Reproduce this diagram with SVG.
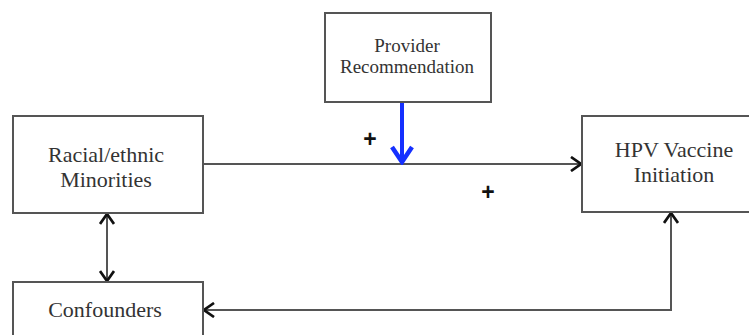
<svg xmlns="http://www.w3.org/2000/svg" width="749" height="335" viewBox="0 0 749 335">
<defs>
<style>
.box{fill:#fff;stroke:#555;stroke-width:2}
.lbl{font-family:"Liberation Serif","Times New Roman",serif;fill:#333;text-anchor:middle}
.plus{font-family:"Liberation Sans",Arial,sans-serif;font-weight:bold;font-size:23px;fill:#111;text-anchor:middle}
.conn{fill:none;stroke:#555;stroke-width:2}
</style>
<marker id="ah" viewBox="0 0 12 16" refX="11" refY="8" markerWidth="12" markerHeight="16" markerUnits="userSpaceOnUse" orient="auto-start-reverse">
<path d="M1,1 L11,8 L1,15" fill="none" stroke="#111" stroke-width="2.7"/>
</marker>
<marker id="ahb" viewBox="0 0 20 24" refX="17" refY="12" markerWidth="20" markerHeight="24" markerUnits="userSpaceOnUse" orient="auto">
<path d="M2,2 L17,12 L2,22" fill="none" stroke="#1530ff" stroke-width="4.5"/>
</marker>
</defs>
<g id="connectors">
<line class="conn" x1="203" y1="164" x2="581" y2="164" marker-end="url(#ah)"/>
<line x1="402" y1="102" x2="402" y2="162" stroke="#1530ff" stroke-width="4" marker-end="url(#ahb)"/>
<line class="conn" x1="107" y1="214" x2="107" y2="281" marker-start="url(#ah)" marker-end="url(#ah)"/>
<polyline class="conn" points="204,310 671,310 671,213" marker-start="url(#ah)" marker-end="url(#ah)"/>
</g>
<g id="provider">
<rect class="box" x="325" y="13" width="166" height="89"/>
<text class="lbl" x="407" y="52" font-size="19">Provider</text>
<text class="lbl" x="407" y="73" font-size="19">Recommendation</text>
</g>
<g id="racial">
<rect class="box" x="13" y="116" width="190" height="97"/>
<text class="lbl" x="106" y="162" font-size="22">Racial/ethnic</text>
<text class="lbl" x="106" y="187" font-size="22">Minorities</text>
</g>
<g id="hpv">
<rect class="box" x="582" y="116" width="180" height="96"/>
<text class="lbl" x="674" y="157" font-size="22">HPV Vaccine</text>
<text class="lbl" x="674" y="182" font-size="22">Initiation</text>
</g>
<g id="confounders">
<rect class="box" x="13" y="282" width="190" height="70"/>
<text class="lbl" x="105" y="317" font-size="22">Confounders</text>
</g>
<text class="plus" x="370" y="147">+</text>
<text class="plus" x="488" y="200">+</text>
</svg>
